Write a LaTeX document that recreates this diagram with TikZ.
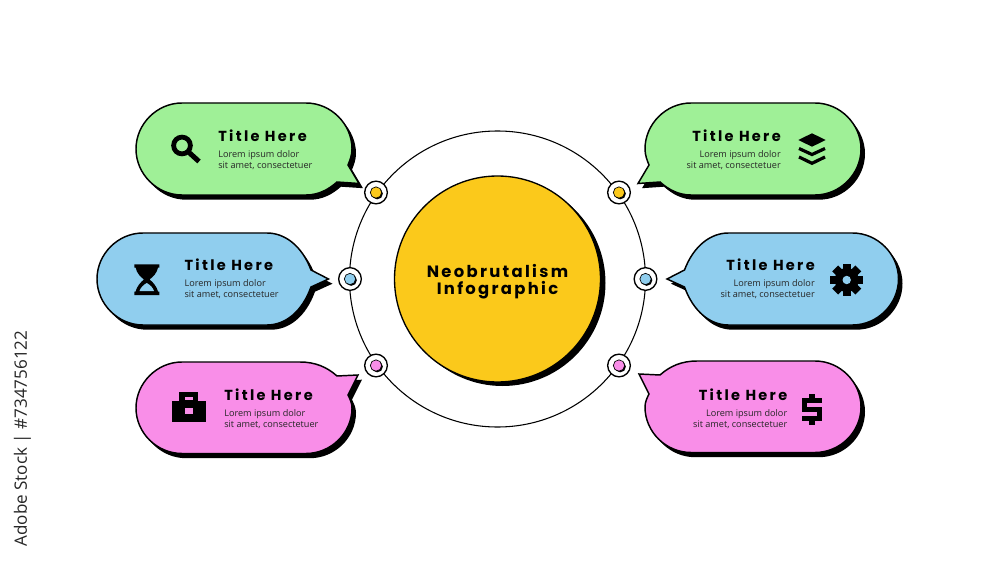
\documentclass[tikz,border=0pt]{standalone}
\usepackage{fontspec}
\setmainfont{Open Sans}
\newfontfamily\titlefont[LetterSpace=14]{Poppins}
\newfontfamily\headfont[LetterSpace=16]{Poppins}
\newfontfamily\stockfont{Open Sans}
\definecolor{cgreen}{HTML}{9FF097}
\definecolor{cblue}{HTML}{90CEEE}
\definecolor{cpink}{HTML}{F98EE8}
\definecolor{cyell}{HTML}{FBC91B}
\def\greenpath{(182,103) -- (306,103) .. controls (331,103) and (352,124) .. (352,149) .. controls (352,155) and (350,160) .. (348,165) -- (359,183.5) -- (337,182) .. controls (328,190) and (318,195) .. (306,195) -- (182,195) .. controls (157,195) and (136,174) .. (136,149) .. controls (136,124) and (157,103) .. (182,103) -- cycle}
\def\bluepath{(143,233) -- (267,233) .. controls (285,233) and (302,246) .. (311,270) -- (328.5,279) -- (311,287) .. controls (302,312) and (285,325) .. (267,325) -- (143,325) .. controls (118,325) and (97,304) .. (97,279) .. controls (97,254) and (118,233) .. (143,233) -- cycle}
\def\pinkpath{(182,362) -- (300,362) .. controls (315,362) and (327,367) .. (337,376) -- (358,375) -- (348,395) .. controls (350,399) and (352,403) .. (352,408) .. controls (352,433) and (331,453.5) .. (306,453.5) -- (182,453.5) .. controls (157,453.5) and (136,433) .. (136,408) .. controls (136,383) and (157,362) .. (182,362) -- cycle}
\tikzset{
  x=0.75pt,y=-0.75pt,
  bubble/.style={draw=black,line width=1.1pt,line join=miter},
  head/.style={font=\headfont\bfseries\fontsize{10.9}{12}\selectfont,inner sep=0pt},
  bodyl/.style={font=\fontsize{6.85}{8.15}\selectfont,inner sep=0pt,align=left,anchor=north west,text=black!85},
  bodyr/.style={font=\fontsize{6.85}{8.15}\selectfont,inner sep=0pt,align=right,anchor=north east,text=black!85},
  ringnode/.style={circle,draw=black,line width=1pt,fill=white,minimum size=17pt,inner sep=0pt},
  dotnode/.style={circle,draw=black,line width=0.5pt,minimum size=8.5pt,inner sep=0pt},
  dotshadow/.style={circle,fill=black,minimum size=8.5pt,inner sep=0pt},
  icon/.style={fill=black,draw=none}
}
\newcommand{\ringdot}[4]{% name, x, y, colour
  \node[ringnode] (#1) at (#2,#3) {};
  \node[dotshadow] at ([shift={(1.2,1.2)}]#1.center) {};
  \node[dotnode,fill=#4] (#1d) at (#1.center) {};
}
\begin{document}
\begin{tikzpicture}
\useasboundingbox (0,0) rectangle (1000,563);
\fill[white] (0,0) rectangle (1000,563);
% outer ring
\node[circle,draw=black,line width=0.8pt,minimum size=222pt,inner sep=0pt] (ring) at (497.5,279) {};
% centre
\fill[black] (502.5,283) circle (103);
\node[circle,draw=black,line width=1pt,fill=cyell,minimum size=154.5pt,inner sep=0pt] (centre) at (497.5,279) {};
\node[inner sep=0pt,anchor=base,font=\titlefont\bfseries\fontsize{12.3}{14}\selectfont] (ct1) at (497.5,277) {Neobrutalism};
\node[inner sep=0pt,anchor=base,font=\titlefont\bfseries\fontsize{12.3}{14}\selectfont] (ct2) at (497.5,294.5) {Infographic};
% ring nodes
\ringdot{a}{376}{192.5}{cyell}
\ringdot{b}{350}{279}{cblue}
\ringdot{c}{376}{365.5}{cpink}
\ringdot{d}{619}{192.5}{cyell}
\ringdot{e}{645.5}{279}{cblue}
\ringdot{f}{619}{365.5}{cpink}
% bubbles: shadows
\fill[black,shift={(4,4.7)}] \greenpath;
\fill[black,shift={(4,4.7)}] \bluepath;
\fill[black,shift={(4,4.7)}] \pinkpath;
\fill[black,shift={(1001,4.7)},xscale=-1] \greenpath;
\fill[black,shift={(999.5,4.7)},xscale=-1] \bluepath;
\fill[black,shift={(1001,3.7)},xscale=-1] \pinkpath;
% bubbles
\draw[bubble,fill=cgreen] \greenpath;
\draw[bubble,fill=cblue] \bluepath;
\draw[bubble,fill=cpink] \pinkpath;
\draw[bubble,fill=cgreen,shift={(997,0)},xscale=-1] \greenpath;
\draw[bubble,fill=cblue,shift={(995.5,0)},xscale=-1] \bluepath;
\draw[bubble,fill=cpink,shift={(997,-1)},xscale=-1] \pinkpath;
% texts
\node[head,anchor=base west] (t1) at (218,141.2) {Title Here};
\node[bodyl] (b1) at (218,150) {Lorem ipsum dolor\\sit amet, consectetuer};
\node[head,anchor=base west] (t2) at (184.3,270.5) {Title Here};
\node[bodyl] (b2) at (184.3,279.3) {Lorem ipsum dolor\\sit amet, consectetuer};
\node[head,anchor=base west] (t3) at (224,400.5) {Title Here};
\node[bodyl] (b3) at (224,409.5) {Lorem ipsum dolor\\sit amet, consectetuer};
\node[head,anchor=base east] (t4) at (781,141.2) {Title Here};
\node[bodyr] (b4) at (781,150) {Lorem ipsum dolor\\sit amet, consectetuer};
\node[head,anchor=base east] (t5) at (815,270.5) {Title Here};
\node[bodyr] (b5) at (815,279.3) {Lorem ipsum dolor\\sit amet, consectetuer};
\node[head,anchor=base east] (t6) at (787.5,400.5) {Title Here};
\node[bodyr] (b6) at (787.5,409.5) {Lorem ipsum dolor\\sit amet, consectetuer};
% magnifier
\draw[black,line width=3.6pt] (182,145.5) circle (8.4);
\draw[black,line width=3.8pt] (188.5,152) -- (199,161.5);
% hourglass
\fill[icon] (134.3,264.3) -- (159.3,264.3) -- (159.3,267.5) -- (158,267.5) .. controls (157,273) and (153,277) .. (149.5,279.5) .. controls (153,282) and (157,287) .. (158,291.5) -- (159.3,291.5) -- (159.3,295) -- (134.3,295) -- (134.3,291.5) -- (135.6,291.5) .. controls (136.6,287) and (140.6,282) .. (144,279.5) .. controls (140.6,277) and (136.6,273) .. (135.6,267.5) -- (134.3,267.5) -- cycle;
\fill[cblue] (139.5,291) .. controls (140.5,288) and (143,285) .. (146.8,283) .. controls (150.5,285) and (153,288) .. (154,291) -- cycle;
% briefcase
\fill[icon] (179.3,391.7) rectangle (198.3,401);
\fill[icon] (171.7,401) rectangle (205.7,422);
\fill[cpink] (185,408.3) rectangle (192.7,414);
\fill[cpink] (185,397.2) rectangle (192.7,400.2);
% layers
\fill[icon] (798.3,140) -- (812,133.3) -- (825.7,140) -- (812,146.7) -- cycle;
\draw[black,line width=2.4pt,line join=miter] (799,148.5) -- (812,154.5) -- (825,148.5);
\draw[black,line width=2.4pt,line join=miter] (799,157) -- (812,163.3) -- (825,157);
% gear
\fill[icon] (846.7,280) circle (12);
\foreach \a in {0,45,...,315}{
  \fill[icon,shift={(846.7,280)},rotate=\a] (-4.2,-10) rectangle (4.2,-16.4);
}
\fill[cblue] (846.7,280) circle (4.2);
% dollar
\fill[icon] (808.7,394) rectangle (814.7,400);
\fill[icon] (808.7,419) rectangle (814.7,425);
\draw[black,line width=3.8pt,line join=miter] (821.7,400.3) -- (804.2,400.3) -- (804.2,409.5) -- (819.2,409.5) -- (819.2,418.7) -- (801.7,418.7);
% stock line
\node[rotate=90,font=\stockfont\fontsize{12.8}{14}\selectfont,text=black!85,inner sep=0pt] (stock) at (22.5,438.5) {Adobe Stock | \#734756122};
\end{tikzpicture}
\end{document}
